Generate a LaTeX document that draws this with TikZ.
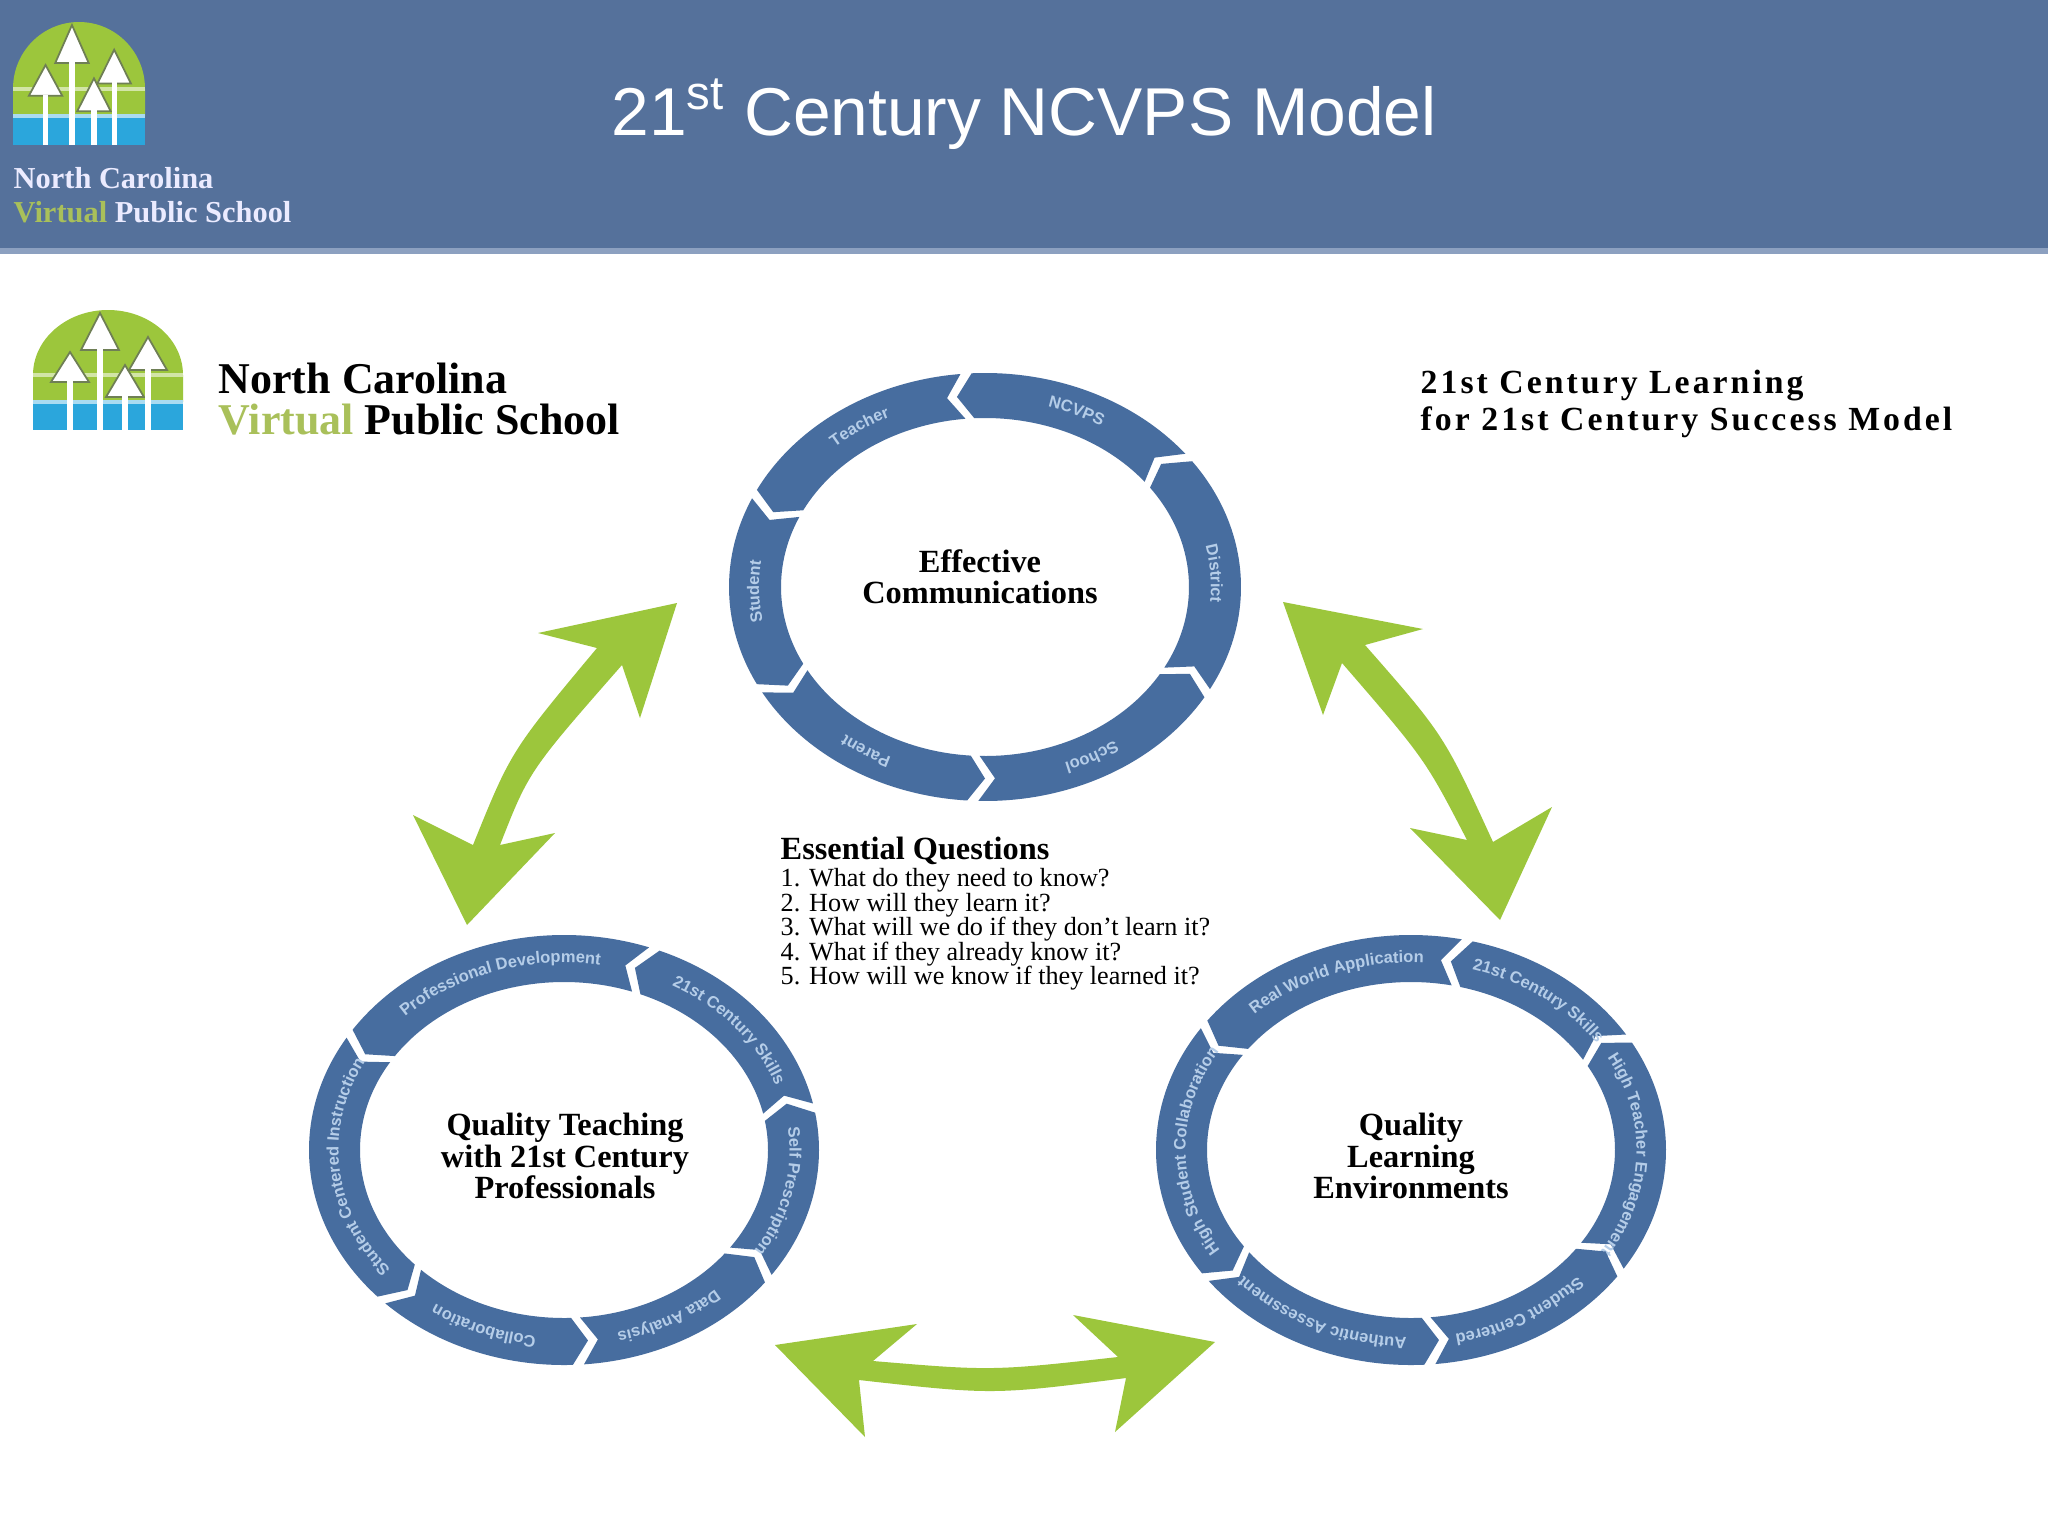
\documentclass[tikz,border=0pt]{standalone}
\usepackage{fontspec}
\setmainfont{Liberation Serif}
\setsansfont{Liberation Sans}
\newfontfamily\sloganfont[LetterSpace=9]{Liberation Serif}
\usetikzlibrary{decorations.text}

\definecolor{headerblue}{HTML}{55719B}
\definecolor{headerline}{HTML}{8CA0C0}
\definecolor{ringblue}{HTML}{476D9F}
\definecolor{ringtext}{HTML}{B5CDE8}
\definecolor{leafgreen}{HTML}{9CC63C}
\definecolor{logoblue}{HTML}{2BA6DC}
\definecolor{virtualgreen}{HTML}{A9C05A}
\definecolor{treeedge}{HTML}{6F7F55}

\tikzset{
    arrowgreen/.style={fill=leafgreen},
    ringseg/.style={fill=ringblue},
    ringname/.style={align=center, font=\fontsize{9.2}{8.9}\selectfont\bfseries, inner sep=0pt},
    slogan/.style={align=left, anchor=north west, font=\fontsize{9.6}{10.5}\sloganfont\bfseries, inner sep=0pt},
    schoolname/.style={align=left, anchor=north west, inner sep=0pt},
}

% one ring: centre, outer radii, inner radii, then start/stop/label
\newcommand{\ringarcs}[6]{
    \begin{scope}[shift={(#1)}]
    \foreach \tA/\tB/\seglabel in {#6}{
        \pgfmathsetmacro{\aOut}{-(\tA+2.5)}
        \pgfmathsetmacro{\bOut}{-\tB}
        \pgfmathsetmacro{\tipA}{-(\tB+4)}
        \pgfmathsetmacro{\nchA}{-(\tA+6.5)}
        \pgfmathsetmacro{\mX}{(#2+#4)/2}
        \pgfmathsetmacro{\mY}{(#3+#5)/2}
        \pgfmathsetmacro{\tX}{\mX-4}
        \pgfmathsetmacro{\tY}{\mY-4}
        \fill[ringseg] (\aOut:#2 and #3) arc[start angle=\aOut, end angle=\bOut, x radius=#2, y radius=#3]
            -- (\tipA:{\mX} and {\mY}) -- (\bOut:#4 and #5)
            arc[start angle=\bOut, end angle=\aOut, x radius=#4, y radius=#5]
            -- (\nchA:{\mX} and {\mY}) -- cycle;
        \path[postaction={decorate, decoration={text along path, text align=center,
                text/.expand once={\ringtextfont\seglabel}}}]
            (\bOut:{\tX} and {\tY}) arc[start angle=\bOut, end angle=\aOut, x radius=\tX, y radius=\tY];
    }
    \end{scope}
}
\newcommand{\ringtextfont}{|\fontsize{4.7}{5}\selectfont\sffamily\bfseries\color{ringtext}|}

% logo: arch, water and four trees
\newcommand{\ncvpslogo}[3]{
    \begin{scope}[shift={(#1)}, xscale=#2, yscale=#3]
    \fill[leafgreen] (0,92) -- (0,65) arc[start angle=180, end angle=360, x radius=75, y radius=65] -- (150,92) -- cycle;
    \fill[white!55!leafgreen] (0,63) rectangle (150,67);
    \fill[logoblue] (0,92) rectangle (150,120);
    \fill[white!60!logoblue] (0,90) rectangle (150,94);
    \foreach \tx/\ty/\by in {37/42/72, 67/3/40, 92/55/87, 115/27/60}{
        \draw[treeedge, fill=white, line width=0.5pt] (\tx,\ty) -- (\tx+19,\by) -- (\tx-19,\by) -- cycle;
        \fill[white] (\tx-3,\by-1) rectangle (\tx+3,120);
    }
    \end{scope}
}

\begin{document}
\begin{tikzpicture}[x=0.01cm, y=-0.01cm]
    \useasboundingbox (0,0) rectangle (2048,1536);
    \fill[white] (0,0) rectangle (2048,1536);
    % Header band
    \fill[headerblue] (0,0) rectangle (2048,248);
    \fill[headerline] (0,248) rectangle (2048,254);
    \node[text=white, font=\fontsize{19.25}{24}\selectfont\sffamily, inner sep=0pt] (title) at (1024,114) {21\textsuperscript{st} Century NCVPS Model};
    \ncvpslogo{13,22}{0.88}{1.025}
    \node[schoolname, text=blue!8!white, font=\fontsize{8.65}{9.6}\selectfont\bfseries] (headschool) at (13,167)
        {North Carolina\\{\color{virtualgreen}Virtual} Public School};
    % Logo and heading below the band
    \ncvpslogo{33,310}{1}{1}
    \node[schoolname, font=\fontsize{12.5}{11.8}\selectfont\bfseries] (school) at (218,362)
        {North Carolina\\{\color{virtualgreen}Virtual} Public School};
    \node[slogan] (slogan) at (1420,369) {21st Century Learning\\for 21st Century Success Model};
    % Rings
    \ringarcs{985,587}{256}{214}{204}{169}{-31/36/District, 36/93/NCVPS, 93/153/Teacher, 153/207/Student, 207/266/Parent, 266/329/School}
    \ringarcs{564,1150}{255}{215}{204}{168}{-38/10/Self Prescription, 10/68/21st Century Skills, 68/146/Professional Development, 146/223/Student Centered Instruction, 223/272/Collaboration, 272/322/Data Analysis}
    \ringarcs{1411,1150}{255}{215}{204}{168}{-36/30/High Teacher Engagement, 30/76/21st Century Skills, 76/143/Real World Application, 143/215/High Student Collaboration, 215/273/Authentic Assessment, 273/324/Student Centered}
    \node[ringname] (effective) at (980,577) {Effective\\Communications};
    \node[ringname] (teaching) at (565,1156) {Quality Teaching\\with 21st Century\\Professionals};
    \node[ringname] (learning) at (1411,1156) {Quality\\Learning\\Environments};
    % Essential questions
    \node[inner sep=0pt, anchor=west, font=\fontsize{9.2}{10}\selectfont\bfseries] (questions) at (780,851) {Essential Questions};
    \node[inner sep=0pt, anchor=north west, align=left, font=\fontsize{7.45}{6.95}\selectfont] (questionlist) at (780,868)
        {1. What do they need to know?\\2. How will they learn it?\\3. What will we do if they don't learn it?\\4. What if they already know it?\\5. How will we know if they learned it?};
    % Green arrows
    \fill[arrowgreen] (677,603) -- (538,633) -- (597,648) .. controls (511,751) .. (473,845) -- (413,815) -- (467,925)
        -- (555,833) -- (500,845) .. controls (529,771) .. (622,665) -- (640,718) -- cycle;
    \fill[arrowgreen] (1283,602) -- (1423,629) -- (1365,645) .. controls (1444,735) .. (1493,842) -- (1552,807) -- (1500,920)
        -- (1410,828) -- (1467,840) .. controls (1425,759) .. (1342,663) -- (1323,715) -- cycle;
    \fill[arrowgreen] (775,1345) -- (917,1324) -- (873,1361) .. controls (992,1371) .. (1118,1357) -- (1073,1315) -- (1215,1342)
        -- (1115,1432) -- (1126,1378) .. controls (993,1395) .. (859,1380) -- (865,1437) -- cycle;
\end{tikzpicture}
\end{document}
